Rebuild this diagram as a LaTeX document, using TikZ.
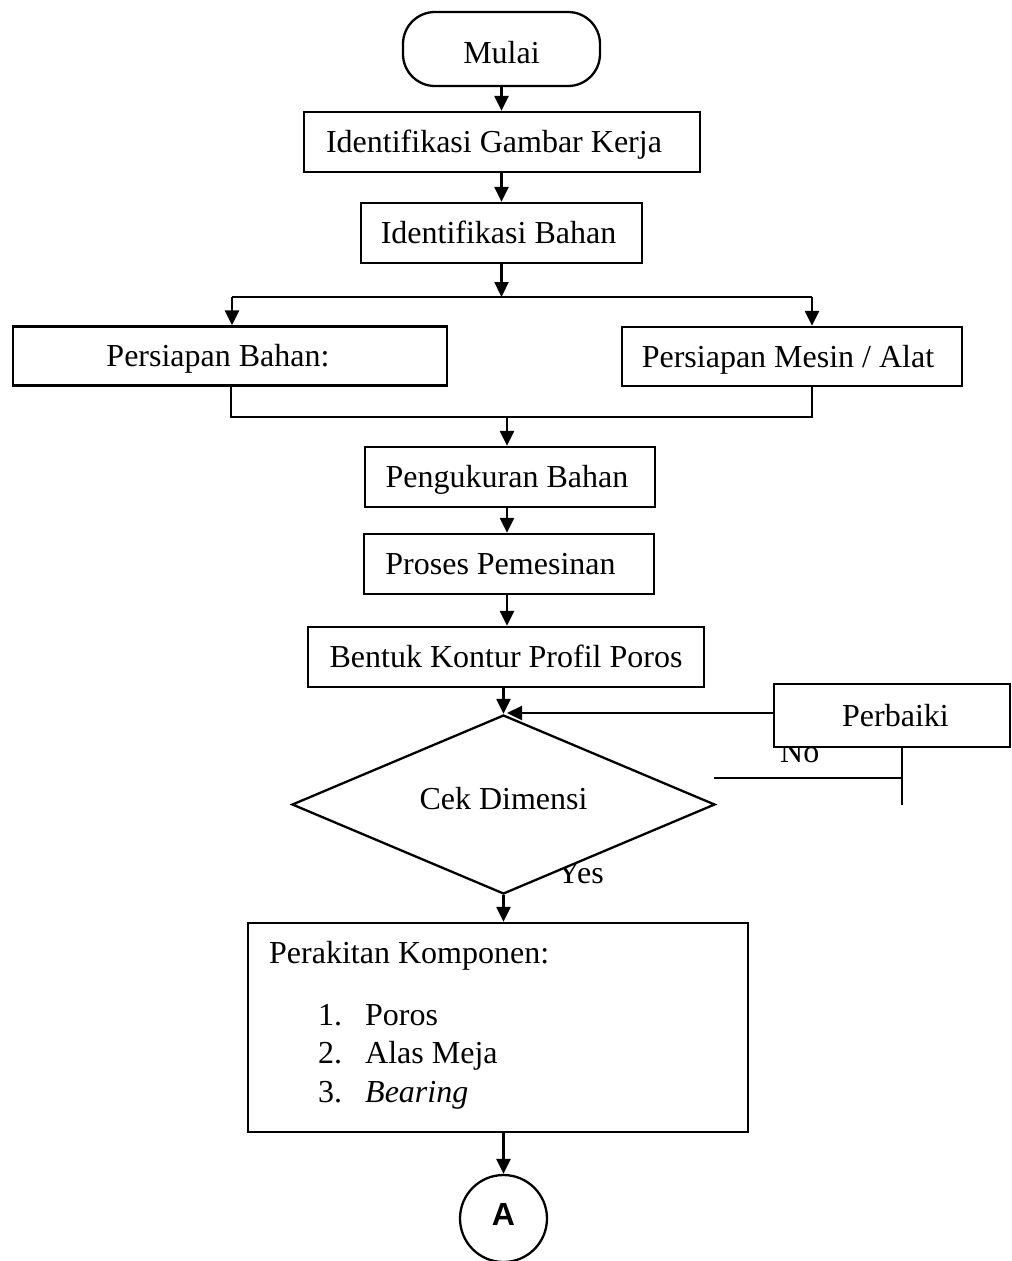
\documentclass[tikz,border=0pt]{standalone}
\usepackage{fontspec}
\setmainfont{Liberation Serif}
\newfontfamily\arialfont{Liberation Sans}
\usetikzlibrary{shapes.geometric,arrows.meta}
\newcommand\flowsize{\fontsize{32pt}{40pt}\selectfont}
\begin{document}
\begin{tikzpicture}[x=1pt,y=-1pt,
  every node/.style={font=\flowsize},
  box/.style={draw, rectangle, line width=2.3pt, fill=white, inner sep=0pt,
              text height=21pt, text depth=0pt},
  arr/.style={line width=2.3pt, -{Triangle[length=15pt,width=14pt]}},
  link/.style={line width=1.3pt},
  lbl/.style={inner sep=0pt, anchor=base west}]
\useasboundingbox (0,0) rectangle (1012,1261);

% process boxes
\node[box, rounded corners=32pt, minimum width=197pt, minimum height=74pt,
      text height=28pt] (mulai) at (501.5,49) {Mulai};
\node[box, minimum width=396pt, minimum height=60pt] (igk) at (502,142)
  {Identifikasi Gambar Kerja\hspace*{16pt}};
\node[box, minimum width=281pt, minimum height=60pt] (ib) at (501.5,233)
  {Identifikasi Bahan\hspace*{6pt}};
\node[box, minimum width=434pt, minimum height=59pt] (pb) at (230,356)
  {Persiapan Bahan:\hspace*{24pt}};
\node[box, minimum width=340pt, minimum height=59pt] (pm) at (792,356.5)
  {Persiapan Mesin / Alat\hspace*{8pt}};
\node[box, minimum width=290pt, minimum height=60pt] (pk) at (510,477)
  {Pengukuran Bahan\hspace*{6pt}};
\node[box, minimum width=290pt, minimum height=60pt] (pp) at (509,564)
  {Proses Pemesinan\hspace*{17pt}};
\node[box, minimum width=396pt, minimum height=60pt] (bk) at (506,657)
  {Bentuk Kontur Profil Poros};

% decision with its labels
\node[lbl] (yes) at (557,883) {Yes};
\node[draw, diamond, line width=2.3pt, fill=white, inner sep=0pt,
      minimum width=423pt, minimum height=179pt] (cek) at (503.5,804.5) {};
\node[inner sep=0pt, text height=21pt, text depth=0pt] (cektext)
  at ([yshift=6pt]cek.center) {Cek Dimensi};
\node[lbl] (no) at (780,762) {No};
\node[box, minimum width=236pt, minimum height=63pt] (perb) at (892,715.5)
  {\hspace*{7pt}Perbaiki};

% assembly box
\node[box, minimum width=500pt, minimum height=209pt] (rk) at (498,1027.5) {};
\node[lbl] (rkhead) at (269,963) {Perakitan Komponen:};
\node[lbl] (n1) at (318,1025) {1.};
\node[lbl] (i1) at (365,1025) {Poros};
\node[lbl] (n2) at (318,1063) {2.};
\node[lbl] (i2) at (365,1063) {Alas Meja};
\node[lbl] (n3) at (318,1102) {3.};
\node[lbl] (i3) at (365,1102) {\itshape Bearing};

% off-page connector
\node[draw, circle, line width=2.3pt, minimum size=87pt, inner sep=0pt,
      text depth=8pt, font=\arialfont\bfseries\flowsize] (cA) at (503.5,1218.5) {A};

% connectors
\coordinate (spL) at (232,297);
\coordinate (spR) at (812,297);
\coordinate (mgL) at (231,417);
\coordinate (mgR) at (812,417);
\coordinate (mg) at (507,417);
\coordinate (fixin) at (507,713);
\coordinate (no1) at (714,778);
\coordinate (no2) at (902,778);
\coordinate (no3) at (902,805);

\draw[arr] (mulai.south) -- (mulai.south |- igk.north);
\draw[arr] (igk.south -| ib.north) -- (ib.north);
\draw[arr] (ib.south) -- (ib.south |- spL);
\draw[link] (spL) -- (spR);
\draw[arr] (spL) -- (spL |- pb.north);
\draw[arr] (spR) -- (spR |- pm.north);
\draw[link] (pb.south -| mgL) -- (mgL) -- (mgR) -- (pm.south -| mgR);
\draw[arr] (mg) -- (mg |- pk.north);
\draw[arr] (pk.south -| mg) -- (mg |- pp.north);
\draw[arr] (pp.south -| mg) -- (mg |- bk.north);
\draw[arr] (bk.south -| cek.north) -- (cek.north);
\draw[arr] (perb.west |- fixin) -- (fixin);
\draw[link] (no1) -- (no2);
\draw[link] (perb.south -| no2) -- (no3);
\draw[arr] (cek.south) -- (cek.south |- rk.north);
\draw[arr] (rk.south -| cA.north) -- (cA.north);
\end{tikzpicture}
\end{document}
